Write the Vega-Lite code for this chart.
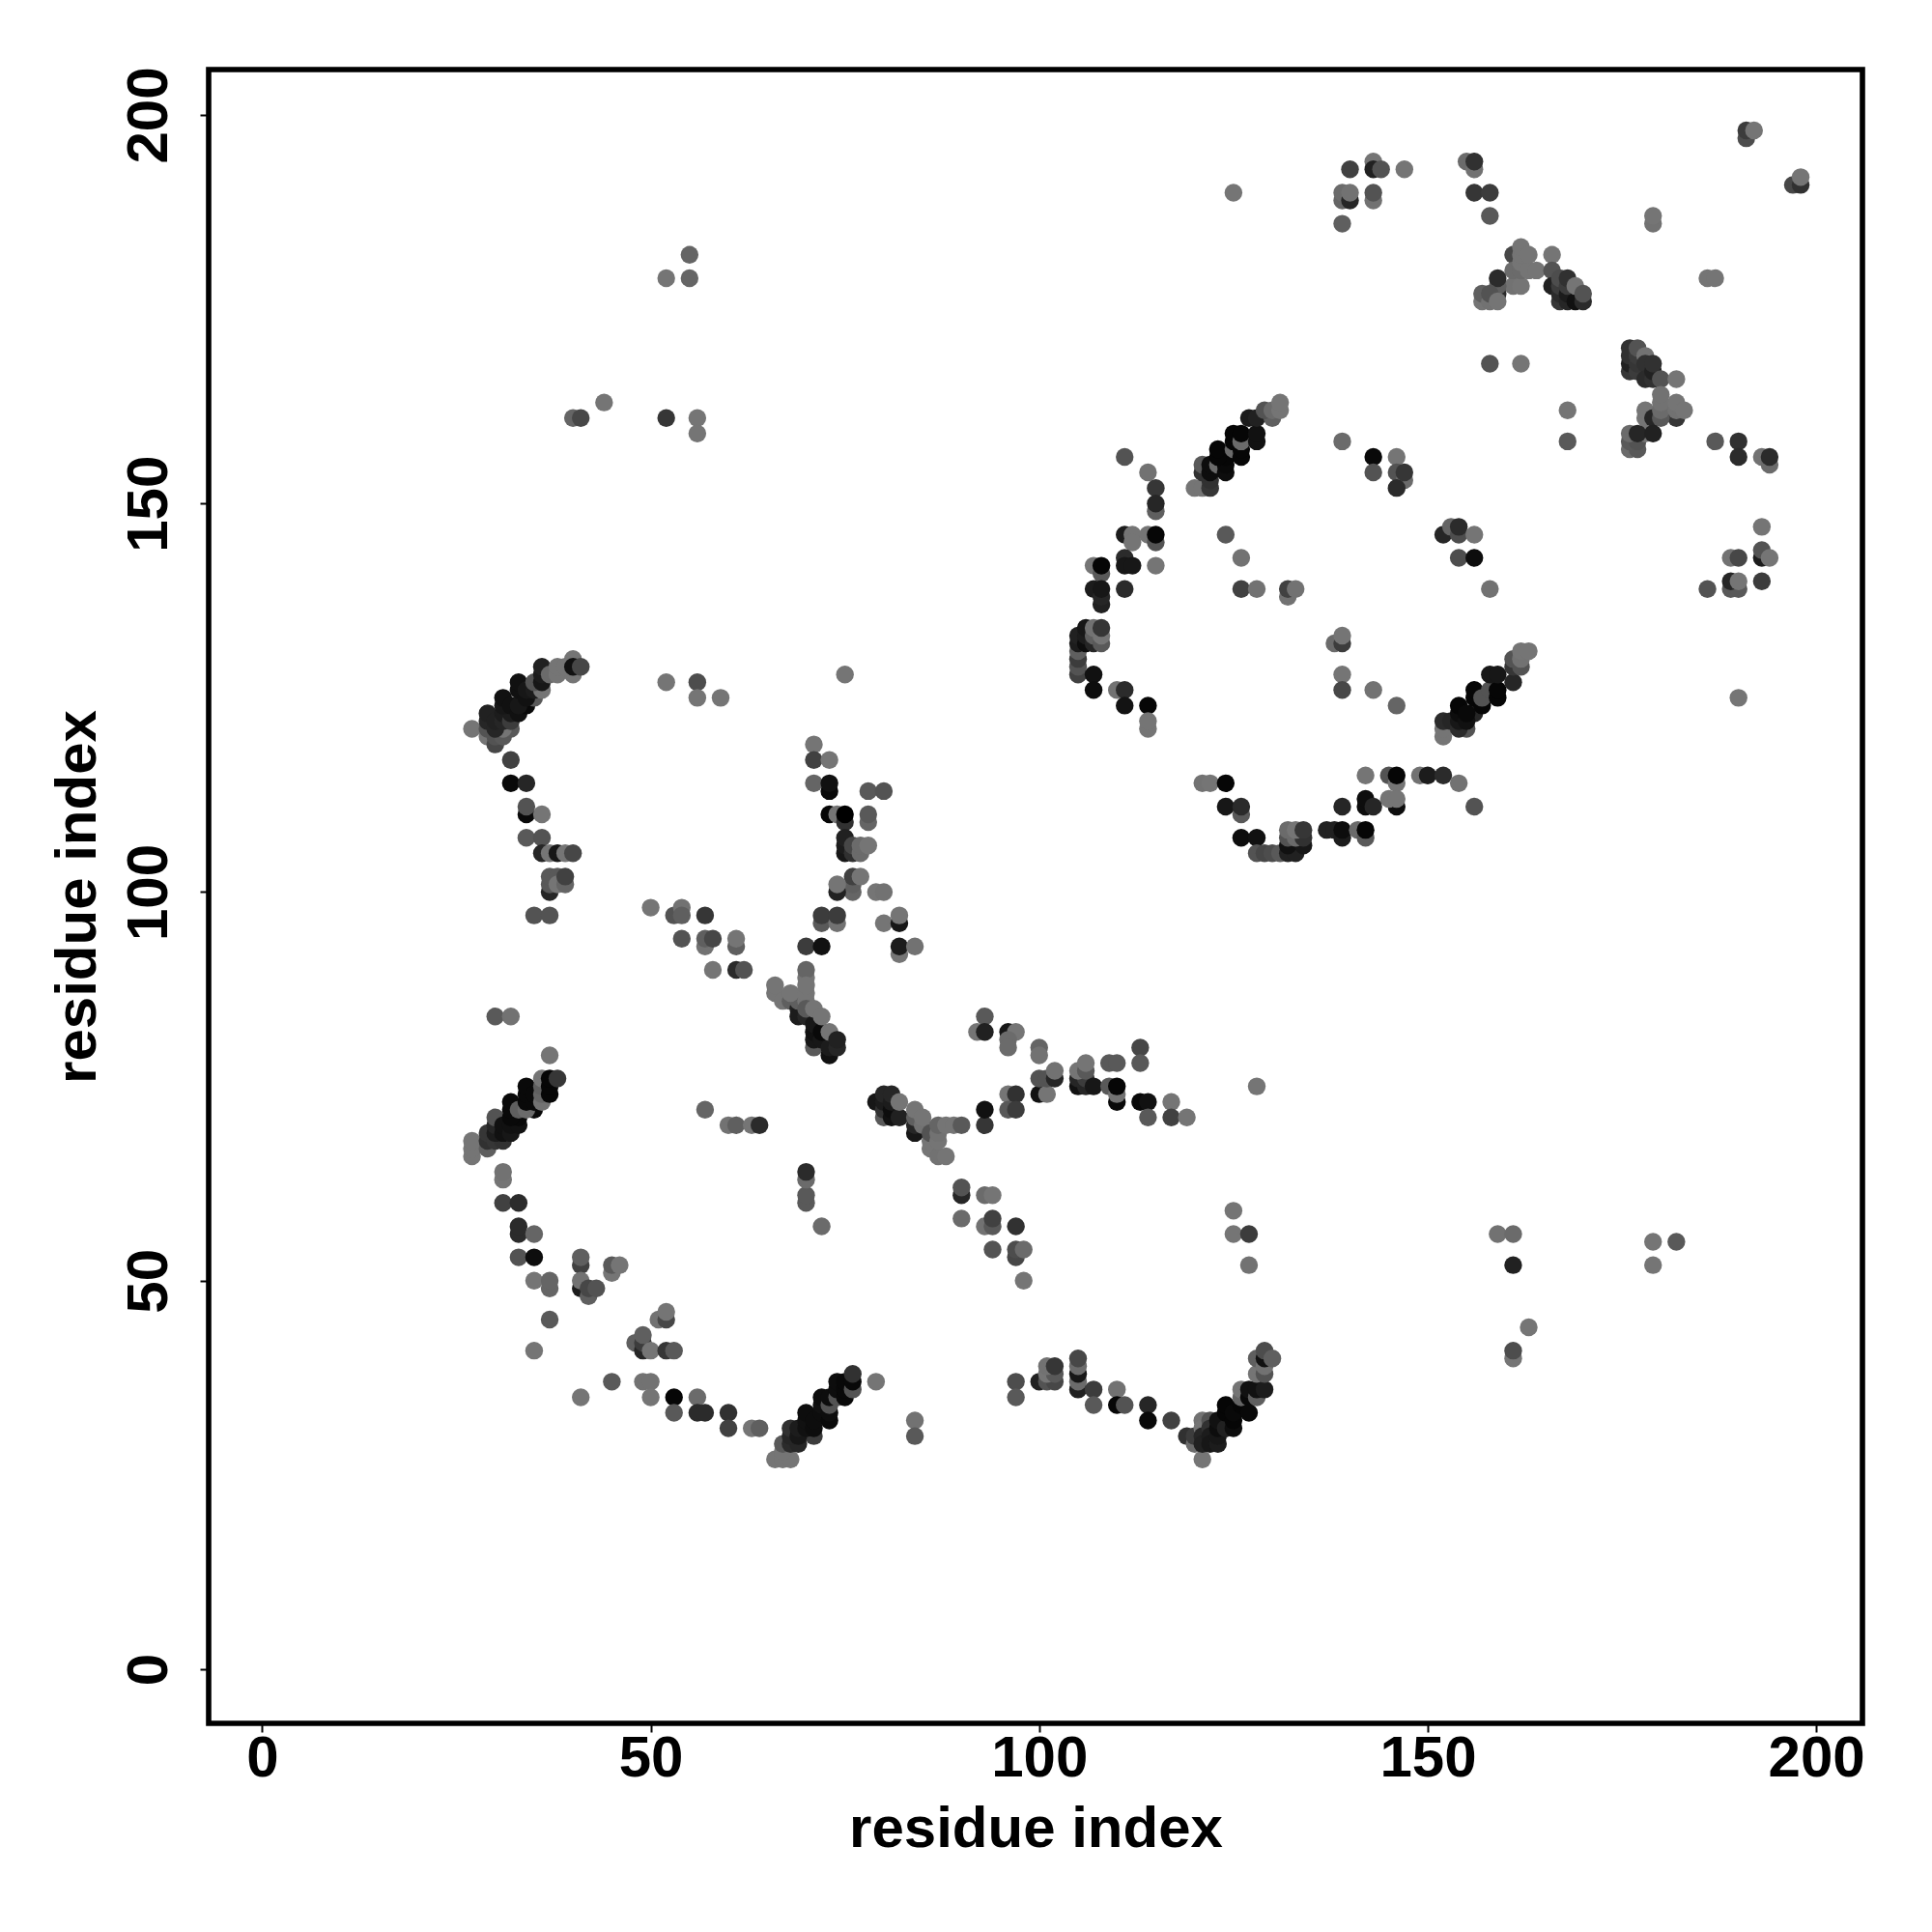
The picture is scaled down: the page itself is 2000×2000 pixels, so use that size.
{"$schema":"https://vega.github.io/schema/vega-lite/v6.json","width":1712,"height":1712,"autosize":"none","padding":{"left":216,"top":72,"right":72,"bottom":216},"background":"white","config":{"view":{"stroke":"black","strokeWidth":5.6}},"data":{"values":[
{"x":27,"y":121,"p":0.02},{"x":29,"y":120,"p":0.02},{"x":30,"y":119,"p":0.4},{"x":29,"y":121,"p":0.3},{"x":30,"y":120,"p":0.3},{"x":31,"y":120,"p":0.25},{"x":32,"y":121,"p":0.25},{"x":31,"y":121,"p":0.02},{"x":29,"y":122,"p":0.7},{"x":29,"y":123,"p":0.75},{"x":30,"y":121,"p":0.7},{"x":30,"y":122,"p":0.75},{"x":31,"y":122,"p":0.7},{"x":31,"y":123,"p":0.8},{"x":32,"y":122,"p":0.5},{"x":32,"y":123,"p":0.8},{"x":31,"y":124,"p":0.85},{"x":31,"y":125,"p":0.9},{"x":32,"y":124,"p":0.9},{"x":33,"y":123,"p":0.9},{"x":34,"y":124,"p":0.95},{"x":33,"y":124,"p":0.85},{"x":33,"y":126,"p":0.9},{"x":33,"y":127,"p":0.9},{"x":35,"y":125,"p":0.25},{"x":34,"y":125,"p":0.9},{"x":34,"y":126,"p":0.85},{"x":35,"y":126,"p":0.8},{"x":36,"y":126,"p":0.02},{"x":35,"y":127,"p":0.3},{"x":36,"y":127,"p":0.85},{"x":36,"y":128,"p":0.8},{"x":36,"y":129,"p":0.75},{"x":37,"y":128,"p":0.1},{"x":38,"y":128,"p":0.02},{"x":38,"y":129,"p":0.02},{"x":40,"y":128,"p":0.02},{"x":40,"y":130,"p":0.02},{"x":39,"y":129,"p":0.02},{"x":40,"y":129,"p":0.9},{"x":41,"y":129,"p":0.4},
{"x":32,"y":117,"p":0.45},{"x":32,"y":114,"p":0.95},{"x":34,"y":114,"p":0.7},{"x":34,"y":110,"p":0.95},{"x":34,"y":111,"p":0.3},{"x":36,"y":110,"p":0.02},{"x":34,"y":107,"p":0.25},{"x":36,"y":107,"p":0.3},{"x":36,"y":105,"p":0.7},{"x":37,"y":105,"p":0.02},{"x":38,"y":105,"p":0.85},{"x":39,"y":105,"p":0.02},{"x":40,"y":105,"p":0.4},{"x":37,"y":100,"p":0.7},{"x":37,"y":101,"p":0.25},{"x":37,"y":102,"p":0.25},{"x":38,"y":102,"p":0.25},{"x":38,"y":101,"p":0.02},{"x":39,"y":101,"p":0.15},{"x":39,"y":102,"p":0.45},{"x":35,"y":97,"p":0.3},{"x":37,"y":97,"p":0.3},
{"x":52,"y":127,"p":0.02},{"x":56,"y":127,"p":0.35},{"x":56,"y":125,"p":0.02},{"x":59,"y":125,"p":0.02},{"x":75,"y":128,"p":0.02},{"x":71,"y":119,"p":0.02},{"x":71,"y":117,"p":0.45},{"x":73,"y":117,"p":0.02},{"x":71,"y":114,"p":0.15},{"x":73,"y":113,"p":0.95},{"x":73,"y":114,"p":0.9},{"x":78,"y":113,"p":0.25},{"x":80,"y":113,"p":0.3},{"x":73,"y":110,"p":0.97},{"x":74,"y":110,"p":0.02},{"x":75,"y":109,"p":0.6},{"x":75,"y":110,"p":1},{"x":78,"y":109,"p":0.15},{"x":78,"y":110,"p":0.25},{"x":75,"y":105,"p":0.85},{"x":75,"y":106,"p":0.8},{"x":75,"y":107,"p":0.75},{"x":76,"y":105,"p":0.6},{"x":76,"y":106,"p":0.4},{"x":77,"y":105,"p":0.1},{"x":77,"y":106,"p":0.1},{"x":78,"y":106,"p":0.02},
{"x":76,"y":100,"p":0.15},{"x":76,"y":101,"p":0.2},{"x":76,"y":102,"p":0.45},{"x":77,"y":102,"p":0.02},{"x":74,"y":100,"p":0.75},{"x":74,"y":101,"p":0.02},{"x":79,"y":100,"p":0.02},{"x":80,"y":100,"p":0.05},{"x":72,"y":96,"p":0.25},{"x":74,"y":96,"p":0.05},{"x":72,"y":97,"p":0.5},{"x":74,"y":97,"p":0.5},{"x":80,"y":96,"p":0.02},{"x":82,"y":96,"p":0.85},{"x":82,"y":97,"p":0.02},{"x":70,"y":93,"p":0.5},{"x":72,"y":93,"p":0.9},{"x":82,"y":92,"p":0.02},{"x":82,"y":93,"p":0.8},{"x":84,"y":93,"p":0.05},
{"x":50,"y":98,"p":0.02},{"x":53,"y":97,"p":0.3},{"x":54,"y":98,"p":0.05},{"x":54,"y":97,"p":0.2},{"x":57,"y":97,"p":0.55},{"x":54,"y":94,"p":0.3},{"x":57,"y":93,"p":0.05},{"x":57,"y":94,"p":0.2},{"x":58,"y":94,"p":0.4},{"x":61,"y":93,"p":0.2},{"x":61,"y":94,"p":0.02},{"x":58,"y":90,"p":0.02},{"x":61,"y":90,"p":0.65},{"x":62,"y":90,"p":0.3},
{"x":70,"y":89,"p":0.02},{"x":70,"y":90,"p":0.15},{"x":66,"y":87,"p":0.02},{"x":66,"y":88,"p":0.02},{"x":67,"y":86,"p":0.02},{"x":68,"y":86,"p":0.2},{"x":69,"y":85,"p":0.75},{"x":69,"y":84,"p":0.8},{"x":70,"y":84,"p":0.7},{"x":69,"y":86,"p":0.2},{"x":68,"y":87,"p":0.02},{"x":70,"y":86,"p":0.02},{"x":70,"y":87,"p":0.02},{"x":70,"y":88,"p":0.02},{"x":70,"y":85,"p":0.25},{"x":71,"y":80,"p":0.25},{"x":71,"y":81,"p":0.85},{"x":71,"y":82,"p":0.9},{"x":71,"y":83,"p":0.85},{"x":71,"y":85,"p":0.02},{"x":72,"y":81,"p":0.85},{"x":72,"y":82,"p":0.95},{"x":72,"y":84,"p":0.02},{"x":73,"y":79,"p":0.9},{"x":73,"y":80,"p":0.8},{"x":73,"y":82,"p":0.02},{"x":74,"y":80,"p":0.7},{"x":74,"y":81,"p":0.75},
{"x":30,"y":84,"p":0.25},{"x":32,"y":84,"p":0.05},{"x":37,"y":79,"p":0.02},
{"x":27,"y":66,"p":0.02},{"x":27,"y":67,"p":0.02},{"x":27,"y":68,"p":0.02},{"x":29,"y":67,"p":0.2},{"x":29,"y":68,"p":0.6},{"x":29,"y":69,"p":0.55},{"x":30,"y":68,"p":0.55},{"x":31,"y":68,"p":0.6},{"x":30,"y":69,"p":0.8},{"x":30,"y":70,"p":0.7},{"x":30,"y":71,"p":0.3},{"x":31,"y":69,"p":0.9},{"x":31,"y":70,"p":0.9},{"x":32,"y":69,"p":0.85},{"x":32,"y":70,"p":0.9},{"x":33,"y":70,"p":0.9},{"x":33,"y":71,"p":0.95},{"x":32,"y":71,"p":0.95},{"x":32,"y":72,"p":0.95},{"x":32,"y":73,"p":0.95},{"x":33,"y":72,"p":0.2},{"x":35,"y":72,"p":0.95},{"x":34,"y":72,"p":0.1},{"x":34,"y":73,"p":0.95},{"x":34,"y":74,"p":0.95},{"x":34,"y":75,"p":0.95},{"x":35,"y":73,"p":0.95},{"x":35,"y":74,"p":0.95},{"x":36,"y":73,"p":0.05},{"x":36,"y":74,"p":0.15},{"x":36,"y":75,"p":0.2},{"x":36,"y":76,"p":0.02},{"x":37,"y":74,"p":0.97},{"x":37,"y":75,"p":0.97},{"x":37,"y":76,"p":0.97},{"x":38,"y":76,"p":0.55},
{"x":57,"y":72,"p":0.15},{"x":60,"y":70,"p":0.05},{"x":61,"y":70,"p":0.2},{"x":63,"y":70,"p":0.02},{"x":64,"y":70,"p":0.65},
{"x":79,"y":73,"p":0.85},{"x":80,"y":71,"p":0.25},{"x":80,"y":72,"p":0.6},{"x":80,"y":73,"p":0.8},{"x":80,"y":74,"p":0.7},{"x":81,"y":71,"p":0.9},{"x":81,"y":72,"p":0.93},{"x":81,"y":73,"p":0.8},{"x":81,"y":74,"p":0.7},{"x":82,"y":71,"p":0.75},{"x":82,"y":73,"p":0.02},{"x":84,"y":69,"p":0.85},{"x":84,"y":70,"p":0.7},{"x":84,"y":71,"p":0.2},{"x":84,"y":72,"p":0.02},{"x":85,"y":70,"p":0.05},{"x":85,"y":71,"p":0.02},{"x":86,"y":67,"p":0.02},{"x":86,"y":68,"p":0.02},{"x":86,"y":69,"p":0.3},{"x":87,"y":66,"p":0.05},{"x":88,"y":66,"p":0.02},{"x":87,"y":68,"p":0.02},{"x":87,"y":69,"p":0.05},{"x":87,"y":70,"p":0.15},{"x":88,"y":70,"p":0.02},{"x":89,"y":70,"p":0.02},{"x":90,"y":70,"p":0.25},
{"x":93,"y":70,"p":0.55},{"x":93,"y":72,"p":0.9},{"x":93,"y":84,"p":0.25},{"x":92,"y":82,"p":0.02},{"x":93,"y":82,"p":0.75},{"x":96,"y":82,"p":0.85},{"x":97,"y":82,"p":0.02},{"x":96,"y":81,"p":0.1},{"x":96,"y":80,"p":0.1},{"x":96,"y":74,"p":0.02},{"x":97,"y":74,"p":0.6},{"x":96,"y":72,"p":0.25},{"x":97,"y":72,"p":0.5},
{"x":100,"y":80,"p":0.15},{"x":100,"y":79,"p":0.05},{"x":100,"y":74,"p":0.9},{"x":101,"y":74,"p":0.02},{"x":100,"y":76,"p":0.3},{"x":101,"y":76,"p":0.3},{"x":102,"y":76,"p":0.7},{"x":102,"y":77,"p":0.05},
{"x":105,"y":75,"p":0.9},{"x":106,"y":75,"p":0.7},{"x":105,"y":76,"p":0.7},{"x":106,"y":76,"p":0.5},{"x":105,"y":77,"p":0.02},{"x":106,"y":77,"p":0.25},{"x":106,"y":78,"p":0.02},{"x":107,"y":75,"p":0.85},{"x":109,"y":78,"p":0.25},{"x":110,"y":78,"p":0.25},{"x":109,"y":75,"p":0.25},{"x":110,"y":73,"p":0.95},{"x":110,"y":74,"p":0.05},{"x":110,"y":75,"p":0.97},{"x":113,"y":80,"p":0.4},{"x":113,"y":78,"p":0.25},{"x":113,"y":73,"p":0.95},{"x":114,"y":73,"p":0.9},{"x":117,"y":73,"p":0.02},{"x":114,"y":71,"p":0.25},{"x":117,"y":71,"p":0.45},{"x":119,"y":71,"p":0.02},{"x":128,"y":75,"p":0.02},
{"x":31,"y":63,"p":0.02},{"x":31,"y":64,"p":0.05},{"x":31,"y":60,"p":0.45},{"x":33,"y":60,"p":0.65},{"x":33,"y":56,"p":0.65},{"x":33,"y":57,"p":0.65},{"x":35,"y":56,"p":0.15},{"x":33,"y":53,"p":0.3},{"x":35,"y":53,"p":0.93},{"x":35,"y":50,"p":0.02},{"x":37,"y":49,"p":0.15},{"x":37,"y":50,"p":0.15},{"x":37,"y":45,"p":0.25},{"x":35,"y":41,"p":0.02},
{"x":41,"y":52,"p":0.45},{"x":41,"y":53,"p":0.2},{"x":41,"y":49,"p":0.8},{"x":41,"y":50,"p":0.05},{"x":42,"y":48,"p":0.2},{"x":42,"y":49,"p":0.4},{"x":43,"y":49,"p":0.3},{"x":45,"y":51,"p":0.02},{"x":45,"y":52,"p":0.25},{"x":46,"y":52,"p":0.02},
{"x":51,"y":45,"p":0.05},{"x":52,"y":45,"p":0.4},{"x":52,"y":46,"p":0.02},{"x":48,"y":42,"p":0.2},{"x":49,"y":41,"p":0.7},{"x":49,"y":42,"p":0.5},{"x":49,"y":43,"p":0.2},{"x":50,"y":41,"p":0.02},{"x":52,"y":41,"p":0.55},{"x":53,"y":41,"p":0.25},
{"x":45,"y":37,"p":0.25},{"x":49,"y":37,"p":0.05},{"x":50,"y":37,"p":0.05},{"x":50,"y":35,"p":0.02},{"x":41,"y":35,"p":0.02},{"x":53,"y":35,"p":0.97},{"x":56,"y":35,"p":0.1},{"x":53,"y":33,"p":0.25},{"x":56,"y":33,"p":0.65},{"x":57,"y":33,"p":0.65},{"x":60,"y":33,"p":0.6},{"x":60,"y":31,"p":0.45},{"x":63,"y":31,"p":0.02},{"x":64,"y":31,"p":0.2},
{"x":66,"y":27,"p":0.02},{"x":67,"y":27,"p":0.02},{"x":68,"y":27,"p":0.02},{"x":67,"y":28,"p":0.02},{"x":67,"y":29,"p":0.25},{"x":68,"y":29,"p":0.65},{"x":69,"y":29,"p":0.7},{"x":68,"y":30,"p":0.7},{"x":68,"y":31,"p":0.6},{"x":71,"y":30,"p":0.5},{"x":69,"y":30,"p":0.85},{"x":69,"y":31,"p":0.8},{"x":70,"y":31,"p":0.9},{"x":70,"y":32,"p":0.9},{"x":70,"y":33,"p":0.93},{"x":71,"y":31,"p":0.93},{"x":71,"y":32,"p":0.93},{"x":72,"y":33,"p":0.93},{"x":72,"y":34,"p":0.9},{"x":72,"y":35,"p":0.93},{"x":73,"y":32,"p":0.95},{"x":73,"y":33,"p":0.93},{"x":73,"y":34,"p":0.3},{"x":73,"y":35,"p":0.93},{"x":74,"y":35,"p":0.3},{"x":74,"y":36,"p":0.93},{"x":74,"y":37,"p":0.93},{"x":75,"y":35,"p":0.95},{"x":75,"y":36,"p":0.95},{"x":75,"y":37,"p":0.95},{"x":76,"y":36,"p":0.3},{"x":76,"y":37,"p":0.95},{"x":76,"y":38,"p":0.6},{"x":79,"y":37,"p":0.02},{"x":84,"y":32,"p":0.05},{"x":84,"y":30,"p":0.25},
{"x":90,"y":61,"p":0.7},{"x":90,"y":62,"p":0.3},{"x":93,"y":61,"p":0.1},{"x":94,"y":61,"p":0.02},{"x":90,"y":58,"p":0.1},{"x":93,"y":57,"p":0.05},{"x":94,"y":57,"p":0.25},{"x":94,"y":58,"p":0.45},{"x":97,"y":57,"p":0.6},{"x":94,"y":54,"p":0.3},{"x":97,"y":53,"p":0.4},{"x":97,"y":54,"p":0.35},{"x":98,"y":54,"p":0.1},{"x":98,"y":50,"p":0.02},
{"x":70,"y":60,"p":0.25},{"x":70,"y":61,"p":0.25},{"x":70,"y":63,"p":0.1},{"x":70,"y":64,"p":0.65},{"x":72,"y":57,"p":0.1},
{"x":97,"y":37,"p":0.35},{"x":97,"y":35,"p":0.25},{"x":100,"y":37,"p":0.75},{"x":101,"y":37,"p":0.3},{"x":102,"y":37,"p":0.4},{"x":101,"y":38,"p":0.02},{"x":102,"y":38,"p":0.25},{"x":101,"y":39,"p":0.05},{"x":102,"y":39,"p":0.55},{"x":105,"y":36,"p":0.75},{"x":105,"y":37,"p":0.1},{"x":105,"y":38,"p":0.85},{"x":105,"y":39,"p":0.1},{"x":105,"y":40,"p":0.4},{"x":107,"y":36,"p":0.5},{"x":107,"y":34,"p":0.25},{"x":110,"y":36,"p":0.05},{"x":110,"y":34,"p":0.97},{"x":111,"y":34,"p":0.3},{"x":114,"y":34,"p":0.7},{"x":114,"y":32,"p":0.95},{"x":117,"y":32,"p":0.45},
{"x":121,"y":27,"p":0.02},{"x":119,"y":30,"p":0.6},{"x":120,"y":29,"p":0.1},{"x":120,"y":30,"p":0.5},{"x":121,"y":32,"p":0.05},{"x":121,"y":31,"p":0.02},{"x":121,"y":30,"p":0.7},{"x":121,"y":29,"p":0.75},{"x":122,"y":32,"p":0.3},{"x":122,"y":31,"p":0.6},{"x":122,"y":30,"p":0.8},{"x":122,"y":29,"p":0.85},{"x":123,"y":29,"p":0.8},{"x":123,"y":30,"p":0.85},{"x":123,"y":31,"p":0.93},{"x":123,"y":32,"p":0.9},{"x":124,"y":31,"p":0.75},{"x":124,"y":33,"p":0.97},{"x":124,"y":34,"p":0.97},{"x":125,"y":31,"p":0.93},{"x":125,"y":32,"p":0.97},{"x":125,"y":33,"p":0.95},{"x":126,"y":34,"p":0.97},{"x":126,"y":35,"p":0.15},{"x":126,"y":36,"p":0.02},{"x":127,"y":33,"p":0.95},{"x":127,"y":35,"p":0.95},{"x":127,"y":36,"p":0.9},{"x":128,"y":35,"p":0.2},{"x":128,"y":36,"p":0.9},{"x":128,"y":38,"p":0.02},{"x":129,"y":36,"p":0.8},{"x":129,"y":38,"p":0.3},{"x":128,"y":40,"p":0.2},{"x":129,"y":39,"p":0.05},{"x":129,"y":40,"p":0.9},{"x":129,"y":41,"p":0.35},{"x":130,"y":40,"p":0.2},
{"x":125,"y":59,"p":0.02},{"x":125,"y":56,"p":0.02},{"x":127,"y":56,"p":0.5},{"x":127,"y":52,"p":0.05},{"x":159,"y":56,"p":0.05},{"x":161,"y":56,"p":0.1},{"x":161,"y":52,"p":0.75},{"x":161,"y":40,"p":0.02},{"x":161,"y":41,"p":0.35},{"x":163,"y":44,"p":0.02},{"x":179,"y":55,"p":0.02},{"x":182,"y":55,"p":0.25},{"x":179,"y":52,"p":0.02},
{"x":139,"y":158,"p":0.1},{"x":143,"y":156,"p":0.95},{"x":143,"y":154,"p":0.3},{"x":146,"y":156,"p":0.02},{"x":146,"y":154,"p":0.3},{"x":147,"y":153,"p":0.1},{"x":147,"y":154,"p":0.55},{"x":146,"y":152,"p":0.65},{"x":168,"y":162,"p":0.02},{"x":168,"y":158,"p":0.25},
{"x":111,"y":156,"p":0.3},{"x":114,"y":154,"p":0.05},{"x":115,"y":152,"p":0.55},{"x":115,"y":149,"p":0.2},{"x":115,"y":150,"p":0.7},{"x":111,"y":146,"p":0.8},{"x":112,"y":146,"p":0.02},{"x":112,"y":145,"p":0.02},{"x":114,"y":146,"p":0.02},{"x":115,"y":145,"p":0.3},{"x":115,"y":146,"p":0.97},{"x":115,"y":142,"p":0.02},{"x":111,"y":143,"p":0.65},{"x":111,"y":142,"p":0.85},{"x":112,"y":142,"p":0.85},{"x":107,"y":142,"p":0.02},{"x":108,"y":141,"p":0.25},{"x":108,"y":142,"p":0.97},{"x":107,"y":139,"p":0.8},{"x":108,"y":137,"p":0.75},{"x":108,"y":138,"p":0.7},{"x":108,"y":139,"p":0.85},{"x":111,"y":139,"p":0.65},
{"x":124,"y":146,"p":0.25},{"x":126,"y":143,"p":0.05},{"x":126,"y":139,"p":0.45},{"x":128,"y":139,"p":0.05},{"x":132,"y":138,"p":0.05},{"x":132,"y":139,"p":0.45},{"x":133,"y":139,"p":0.05},{"x":152,"y":146,"p":0.7},{"x":153,"y":147,"p":0.15},{"x":154,"y":146,"p":0.35},{"x":154,"y":147,"p":0.65},{"x":156,"y":146,"p":0.02},{"x":154,"y":143,"p":0.35},{"x":156,"y":143,"p":0.93},{"x":158,"y":139,"p":0.05},
{"x":105,"y":128,"p":0.45},{"x":105,"y":129,"p":0.3},{"x":105,"y":130,"p":0.5},{"x":105,"y":131,"p":0.2},{"x":105,"y":132,"p":0.8},{"x":105,"y":133,"p":0.75},{"x":106,"y":132,"p":0.93},{"x":106,"y":133,"p":0.8},{"x":106,"y":134,"p":0.85},{"x":107,"y":132,"p":0.7},{"x":107,"y":133,"p":0.2},{"x":107,"y":134,"p":0.05},{"x":108,"y":132,"p":0.25},{"x":108,"y":133,"p":0.02},{"x":108,"y":134,"p":0.55},{"x":107,"y":128,"p":0.9},{"x":107,"y":126,"p":0.93},{"x":110,"y":126,"p":0.05},{"x":111,"y":126,"p":0.65},{"x":111,"y":124,"p":0.88},{"x":114,"y":124,"p":0.97},{"x":114,"y":121,"p":0.02},{"x":114,"y":122,"p":0.02},
{"x":120,"y":152,"p":0.02},{"x":121,"y":152,"p":0.02},{"x":122,"y":152,"p":0.55},{"x":122,"y":153,"p":0.6},{"x":121,"y":154,"p":0.6},{"x":121,"y":155,"p":0.25},{"x":122,"y":154,"p":0.93},{"x":122,"y":155,"p":0.93},{"x":123,"y":155,"p":0.1},{"x":124,"y":154,"p":0.93},{"x":124,"y":155,"p":0.95},{"x":124,"y":156,"p":0.97},{"x":123,"y":156,"p":0.97},{"x":123,"y":157,"p":0.97},{"x":125,"y":157,"p":0.1},{"x":126,"y":156,"p":0.97},{"x":126,"y":157,"p":0.97},{"x":125,"y":158,"p":0.97},{"x":125,"y":159,"p":0.97},{"x":126,"y":158,"p":0.1},{"x":126,"y":159,"p":0.97},{"x":128,"y":158,"p":0.9},{"x":128,"y":159,"p":0.9},{"x":127,"y":161,"p":0.8},{"x":128,"y":161,"p":0.75},{"x":130,"y":161,"p":0.2},{"x":129,"y":162,"p":0.3},{"x":130,"y":162,"p":0.1},{"x":131,"y":162,"p":0.02},{"x":131,"y":163,"p":0.02},
{"x":152,"y":120,"p":0.02},{"x":152,"y":121,"p":0.02},{"x":152,"y":122,"p":0.65},{"x":153,"y":122,"p":0.7},{"x":155,"y":121,"p":0.3},{"x":154,"y":121,"p":0.65},{"x":154,"y":122,"p":0.85},{"x":154,"y":123,"p":0.93},{"x":154,"y":124,"p":0.97},{"x":156,"y":123,"p":0.7},{"x":155,"y":122,"p":0.9},{"x":155,"y":123,"p":0.95},{"x":156,"y":125,"p":0.97},{"x":156,"y":126,"p":0.97},{"x":157,"y":124,"p":0.97},{"x":157,"y":125,"p":0.3},{"x":158,"y":126,"p":0.3},{"x":159,"y":125,"p":0.97},{"x":159,"y":126,"p":0.97},{"x":158,"y":128,"p":0.85},{"x":159,"y":128,"p":0.85},{"x":161,"y":127,"p":0.7},{"x":161,"y":129,"p":0.55},{"x":161,"y":130,"p":0.3},{"x":162,"y":129,"p":0.3},{"x":162,"y":130,"p":0.05},{"x":162,"y":131,"p":0.02},{"x":163,"y":131,"p":0.02},
{"x":142,"y":115,"p":0.02},{"x":145,"y":115,"p":0.3},{"x":146,"y":114,"p":0.02},{"x":146,"y":115,"p":0.97},{"x":149,"y":115,"p":0.05},{"x":150,"y":115,"p":0.8},{"x":152,"y":115,"p":0.65},{"x":154,"y":114,"p":0.05},{"x":156,"y":111,"p":0.3},{"x":146,"y":111,"p":0.93},{"x":145,"y":112,"p":0.02},{"x":146,"y":112,"p":0.02},{"x":142,"y":111,"p":0.93},{"x":142,"y":112,"p":0.93},{"x":143,"y":111,"p":0.7},{"x":139,"y":111,"p":0.7},
{"x":121,"y":114,"p":0.05},{"x":122,"y":114,"p":0.02},{"x":124,"y":114,"p":0.97},{"x":124,"y":111,"p":0.85},{"x":126,"y":110,"p":0.25},{"x":126,"y":111,"p":0.65},{"x":126,"y":107,"p":0.93},{"x":128,"y":107,"p":0.9},{"x":137,"y":108,"p":0.75},{"x":138,"y":108,"p":0.75},{"x":139,"y":107,"p":0.8},{"x":139,"y":108,"p":0.93},{"x":141,"y":108,"p":0.1},{"x":142,"y":107,"p":0.25},{"x":142,"y":108,"p":0.97},
{"x":128,"y":105,"p":0.3},{"x":129,"y":105,"p":0.4},{"x":130,"y":105,"p":0.35},{"x":131,"y":105,"p":0.25},{"x":132,"y":105,"p":0.75},{"x":133,"y":105,"p":0.75},{"x":132,"y":106,"p":0.9},{"x":134,"y":106,"p":0.85},{"x":132,"y":107,"p":0.3},{"x":133,"y":107,"p":0.1},{"x":134,"y":107,"p":0.6},{"x":132,"y":108,"p":0.1},{"x":133,"y":108,"p":0.02},{"x":134,"y":108,"p":0.55},
{"x":138,"y":132,"p":0.1},{"x":139,"y":132,"p":0.5},{"x":139,"y":133,"p":0.02},{"x":139,"y":128,"p":0.02},{"x":139,"y":126,"p":0.4},{"x":143,"y":126,"p":0.05},{"x":146,"y":124,"p":0.15},
{"x":140,"y":193,"p":0.45},{"x":143,"y":194,"p":0.02},{"x":143,"y":193,"p":0.75},{"x":144,"y":193,"p":0.3},{"x":147,"y":193,"p":0.02},{"x":139,"y":189,"p":0.15},{"x":139,"y":190,"p":0.1},{"x":140,"y":189,"p":0.7},{"x":140,"y":190,"p":0.05},{"x":143,"y":189,"p":0.05},{"x":143,"y":190,"p":0.3},{"x":139,"y":186,"p":0.2},
{"x":155,"y":194,"p":0.1},{"x":156,"y":193,"p":0.05},{"x":156,"y":194,"p":0.6},{"x":156,"y":190,"p":0.55},{"x":158,"y":190,"p":0.5},{"x":158,"y":187,"p":0.25},{"x":191,"y":197,"p":0.35},{"x":191,"y":198,"p":0.5},{"x":192,"y":198,"p":0.02},{"x":197,"y":191,"p":0.4},{"x":198,"y":191,"p":0.6},{"x":198,"y":192,"p":0.02},{"x":179,"y":186,"p":0.05},{"x":179,"y":187,"p":0.02},
{"x":161,"y":182,"p":0.4},{"x":161,"y":178,"p":0.05},{"x":161,"y":180,"p":0.1},{"x":162,"y":178,"p":0.02},{"x":159,"y":177,"p":0.65},{"x":159,"y":178,"p":0.2},{"x":159,"y":179,"p":0.65},{"x":157,"y":176,"p":0.02},{"x":157,"y":177,"p":0.2},{"x":158,"y":176,"p":0.05},{"x":158,"y":177,"p":0.3},{"x":159,"y":176,"p":0.02},{"x":162,"y":180,"p":0.1},{"x":162,"y":181,"p":0.02},{"x":162,"y":182,"p":0.02},{"x":162,"y":183,"p":0.02},{"x":163,"y":180,"p":0.02},{"x":163,"y":182,"p":0.02},{"x":164,"y":180,"p":0.02},{"x":166,"y":182,"p":0.02},{"x":166,"y":180,"p":0.3},{"x":166,"y":178,"p":0.75},{"x":167,"y":176,"p":0.55},{"x":167,"y":177,"p":0.65},{"x":167,"y":178,"p":0.5},{"x":167,"y":179,"p":0.35},{"x":168,"y":176,"p":0.7},{"x":168,"y":177,"p":0.8},{"x":168,"y":178,"p":0.5},{"x":168,"y":179,"p":0.6},{"x":169,"y":176,"p":0.9},{"x":170,"y":176,"p":0.65},{"x":169,"y":178,"p":0.02},{"x":170,"y":177,"p":0.3},
{"x":186,"y":179,"p":0.02},{"x":187,"y":179,"p":0.02},{"x":158,"y":168,"p":0.3},{"x":162,"y":168,"p":0.02},
{"x":176,"y":167,"p":0.55},{"x":176,"y":168,"p":0.75},{"x":176,"y":169,"p":0.6},{"x":176,"y":170,"p":0.6},{"x":177,"y":167,"p":0.5},{"x":177,"y":168,"p":0.55},{"x":177,"y":169,"p":0.5},{"x":177,"y":170,"p":0.3},{"x":178,"y":169,"p":0.05},{"x":178,"y":168,"p":0.6},{"x":178,"y":166,"p":0.65},{"x":179,"y":166,"p":0.6},{"x":179,"y":167,"p":0.75},{"x":179,"y":168,"p":0.6},{"x":180,"y":166,"p":0.3},{"x":182,"y":166,"p":0.02},
{"x":178,"y":161,"p":0.02},{"x":178,"y":162,"p":0.02},{"x":179,"y":161,"p":0.7},{"x":182,"y":161,"p":0.55},{"x":180,"y":161,"p":0.25},{"x":180,"y":162,"p":0.1},{"x":180,"y":163,"p":0.05},{"x":180,"y":164,"p":0.05},{"x":182,"y":162,"p":0.05},{"x":182,"y":163,"p":0.02},{"x":183,"y":162,"p":0.02},
{"x":176,"y":157,"p":0.1},{"x":177,"y":157,"p":0.25},{"x":176,"y":158,"p":0.25},{"x":177,"y":158,"p":0.3},{"x":176,"y":159,"p":0.1},{"x":178,"y":159,"p":0.02},{"x":177,"y":159,"p":0.7},{"x":179,"y":159,"p":0.75},
{"x":187,"y":158,"p":0.25},{"x":190,"y":158,"p":0.6},{"x":190,"y":156,"p":0.65},{"x":193,"y":156,"p":0.05},{"x":194,"y":155,"p":0.1},{"x":194,"y":156,"p":0.65},
{"x":193,"y":147,"p":0.02},{"x":193,"y":143,"p":0.8},{"x":193,"y":144,"p":0.3},{"x":194,"y":143,"p":0.02},{"x":189,"y":143,"p":0.05},{"x":190,"y":143,"p":0.4},{"x":189,"y":139,"p":0.25},{"x":190,"y":139,"p":0.25},{"x":189,"y":140,"p":0.7},{"x":190,"y":140,"p":0.02},{"x":193,"y":140,"p":0.5},{"x":186,"y":139,"p":0.3},{"x":190,"y":125,"p":0.02},
{"x":55,"y":182,"p":0.15},{"x":52,"y":179,"p":0.02},{"x":55,"y":179,"p":0.15},{"x":44,"y":163,"p":0.02},{"x":40,"y":161,"p":0.15},{"x":41,"y":161,"p":0.4},{"x":52,"y":161,"p":0.55},{"x":56,"y":161,"p":0.02},{"x":56,"y":159,"p":0.02},{"x":125,"y":190,"p":0.02}
]},
"mark":{"type":"circle","size":339,"opacity":1},
"encoding":{
"x":{"field":"x","type":"quantitative","scale":{"domain":[-6.89,205.95],"nice":false,"zero":false},"axis":{"values":[0,50,100,150,200],"grid":false,"domain":false,"tickSize":9,"tickWidth":2,"tickColor":"black","labelFont":"Liberation Sans","labelFontWeight":"bold","labelFontSize":60,"labelColor":"black","labelPadding":-2,"labelOverlap":false,"labelFlush":false,"title":"residue index","titleFont":"Liberation Sans","titleFontWeight":"bold","titleFontSize":60,"titleColor":"black","titlePadding":14}},
"y":{"field":"y","type":"quantitative","scale":{"domain":[-6.96,205.84],"nice":false,"zero":false},"axis":{"values":[0,50,100,150,200],"grid":false,"domain":false,"tickSize":9,"tickWidth":2,"tickColor":"black","labelFont":"Liberation Sans","labelFontWeight":"bold","labelFontSize":60,"labelColor":"black","labelAngle":-90,"labelAlign":"center","labelBaseline":"bottom","labelPadding":22,"labelOverlap":false,"labelFlush":false,"title":"residue index","titleFont":"Liberation Sans","titleFontWeight":"bold","titleFontSize":60,"titleColor":"black","titlePadding":13}},
"color":{"field":"p","type":"quantitative","legend":null,"scale":{"domain":[0,1],"range":["#787878","#000000"]}}
}}
